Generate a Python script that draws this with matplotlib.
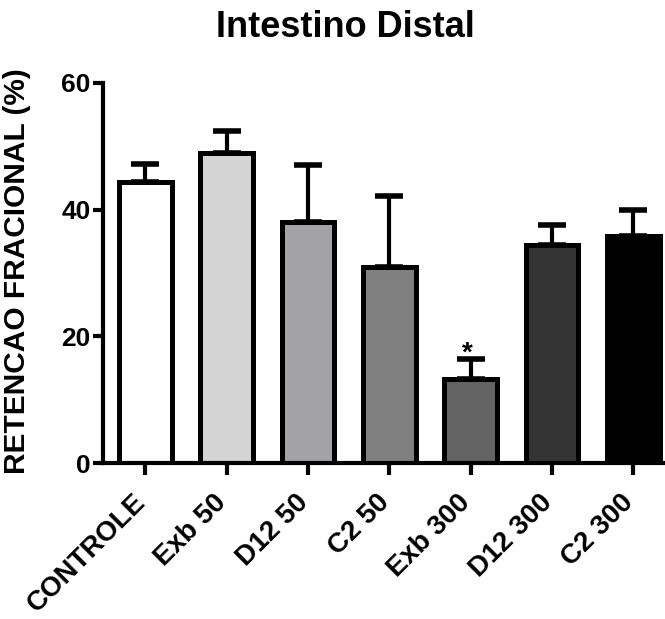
import matplotlib
matplotlib.use('Agg')
import matplotlib.pyplot as plt
import matplotlib.transforms as mtransforms
import numpy as np

# data
groups = ['CONTROLE', 'Exb 50', 'D12 50', 'C2 50', 'Exb 300', 'D12 300', 'C2 300']
means = [44.4, 48.9, 38.0, 30.9, 13.3, 34.4, 35.9]
errors = [2.8, 3.5, 9.1, 11.2, 3.1, 3.2, 4.1]
colors = ['#ffffff', '#d4d4d4', '#a3a2a6', '#808080', '#636363', '#333333', '#000000']
signif = ['', '', '', '', '*', '', '']

plt.rcParams['font.family'] = 'Liberation Sans'
plt.rcParams['font.weight'] = 'bold'

fig = plt.figure(figsize=(6.65, 6.19), dpi=100)
ax = fig.add_axes([0.155, 0.252, 0.845, 0.614])

x = np.arange(len(groups))

# error bars (upper only), drawn under the bars
ax.errorbar(x, means, yerr=[np.zeros(len(errors)), errors], fmt='none',
            ecolor='black', elinewidth=3, capsize=10, capthick=4, zorder=1)
ax.bar(x, means, width=0.65, color=colors, edgecolor='black', linewidth=3.6, zorder=2)

for xi, m, e, s in zip(x, means, errors, signif):
    if s:
        ax.text(xi - 0.046, m + e - 0.2, s, ha='center', va='baseline', fontsize=20, fontweight='bold')

ax.set_xlim(-0.52, 6.39)
ax.set_ylim(0, 60)
ax.set_yticks([0, 20, 40, 60])
ax.set_xticks(x)
ax.set_xticklabels(groups, rotation=45, ha='right', va='center', rotation_mode='anchor',
                   fontsize=20, fontweight='bold')
ax.tick_params(axis='y', labelsize=19, width=3, length=7, pad=2)
ax.tick_params(axis='x', width=3, length=8.5, pad=17)
for lab in ax.get_yticklabels():
    lab.set_fontweight('bold')
shift = mtransforms.ScaledTranslation(-4 / 100, 0, fig.dpi_scale_trans)
for lab in ax.get_xticklabels():
    lab.set_transform(lab.get_transform() + shift)

ax.spines['top'].set_visible(False)
ax.spines['right'].set_visible(False)
ax.spines['left'].set_linewidth(3)
ax.spines['bottom'].set_linewidth(3)

ax.set_ylabel('RETENCAO FRACIONAL (%)', fontsize=21.5, fontweight='bold')
ax.yaxis.set_label_coords(-0.128, 0.505)
fig.text(0.519, 0.94, 'Intestino Distal', ha='center', va='baseline', fontsize=26, fontweight='bold')

fig.savefig('out.png', dpi=100)
